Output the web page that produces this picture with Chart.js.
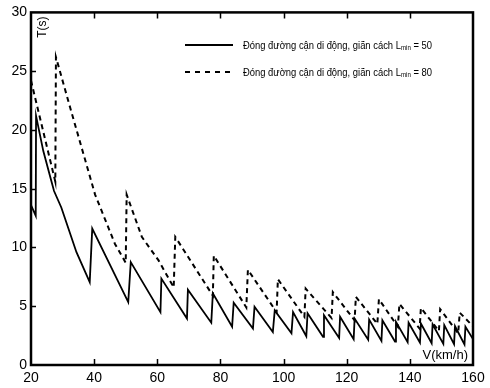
<!DOCTYPE html>
<html>
<head>
<meta charset="utf-8">
<script src="https://cdn.jsdelivr.net/npm/chart.js@4"></script>
<style>
  html, body { margin: 0; padding: 0; background: #fff; }
  #wrap { width: 490px; height: 388px; }
</style>
</head>
<body>
<div id="wrap"><canvas id="chart" width="490" height="388"></canvas></div>
<script>
// Lmin = 50 (solid)
const solidV = [20, 21.5, 21.6, 23.9, 26.4, 27.3, 29.6, 34.4, 38.6, 39.4, 50.8, 51.6, 61.0, 61.3, 69.4, 69.7,
    77.1, 77.6, 83.7, 84.2, 90.3, 90.8, 96.6, 97.2, 102.5, 103.0, 107.2, 107.6, 112.5, 112.8, 117.6, 117.9,
    122.2, 122.5, 126.8, 127.1, 131.0, 131.3, 135.3, 135.6, 139.3, 139.6, 143.2, 143.5, 146.9, 147.2,
    150.6, 150.9, 154.0, 154.3, 157.3, 157.6, 160];
const solidT = [13.6, 12.7, 21.2, 18.2, 15.7, 14.8, 13.4, 9.6, 7.05, 11.6, 5.35, 8.75, 4.5, 7.35, 3.95, 6.4,
    3.6, 6.1, 3.25, 5.3, 3.1, 4.95, 2.8, 4.65, 2.7, 4.5, 2.45, 4.4, 2.4, 4.24, 2.3, 4.1,
    2.2, 3.95, 2.15, 3.87, 2.05, 3.8, 2.0, 3.67, 1.95, 3.6, 1.9, 3.53, 1.85, 3.47,
    1.8, 3.4, 1.78, 3.3, 1.75, 3.25, 2.2];

// Lmin = 80 (dashed)
const dashV = [20, 27.7, 27.9, 32.4, 40.3, 46.6, 50.0, 50.3, 55.1, 60.4, 65.2, 65.7, 77.6, 77.9, 88.2, 88.7,
    97.8, 98.2, 106.6, 107.0, 115.2, 115.6, 122.5, 122.9, 129.7, 130.2, 136.2, 136.7, 143.1, 143.5,
    149.2, 149.6, 155.3, 155.8, 160];
const dashT = [24.2, 15.6, 26.2, 21.9, 14.5, 10.3, 8.7, 14.5, 10.9, 8.9, 6.6, 10.9, 5.9, 9.3, 4.9, 8.1,
    4.5, 7.3, 4.1, 6.5, 4.0, 6.2, 3.8, 5.8, 3.5, 5.6, 3.25, 5.2, 3.1, 4.85,
    2.9, 4.75, 2.7, 4.45, 3.3];

const xTicks = [20, 40, 60, 80, 100, 120, 140, 160];
const yTicks = [0, 5, 10, 15, 20, 25, 30];
const legendLabels = ['Đóng đường cận di động, giãn cách L', 'Đóng đường cận di động, giãn cách L'];
const legendValues = [' = 50', ' = 80'];

const FONT = '"Liberation Sans", Arial, sans-serif';

const pts = (xs, ys) => xs.map((x, i) => ({ x, y: ys[i] }));

// frame, inward ticks, axis titles and legend
const decor = {
    id: 'decor',
    afterDatasetsDraw(chart) {
        const { ctx, chartArea: a, scales } = chart;
        ctx.save();
        ctx.strokeStyle = '#000';
        ctx.fillStyle = '#000';

        ctx.lineWidth = 2.5;
        ctx.strokeRect(a.left, a.top, a.right - a.left, a.bottom - a.top);

        ctx.lineWidth = 1.5;
        xTicks.slice(1, -1).forEach(v => {
            const px = Math.round(scales.x.getPixelForValue(v)) + 0.5;
            ctx.beginPath();
            ctx.moveTo(px, a.top); ctx.lineTo(px, a.top + 6);
            ctx.moveTo(px, a.bottom); ctx.lineTo(px, a.bottom - 6);
            ctx.stroke();
        });
        yTicks.slice(1, -1).forEach(v => {
            const py = Math.round(scales.y.getPixelForValue(v)) + 0.5;
            ctx.beginPath();
            ctx.moveTo(a.left, py); ctx.lineTo(a.left + 5, py);
            ctx.stroke();
        });

        // axis titles
        ctx.font = '12px ' + FONT;
        ctx.save();
        ctx.translate(a.left + 12, a.top + 4);
        ctx.rotate(-Math.PI / 2);
        ctx.textAlign = 'right';
        ctx.textBaseline = 'middle';
        ctx.fillText('T(s)', 0, 0);
        ctx.restore();

        ctx.font = '13px ' + FONT;
        ctx.textAlign = 'right';
        ctx.textBaseline = 'alphabetic';
        ctx.fillText('V(km/h)', a.right - 5, a.bottom - 6);

        // legend
        const rows = [{ y: 45, dash: [] }, { y: 72, dash: [5, 5] }];
        rows.forEach((r, i) => {
            ctx.lineWidth = 2;
            ctx.setLineDash(r.dash);
            ctx.beginPath();
            ctx.moveTo(185, r.y); ctx.lineTo(233, r.y);
            ctx.stroke();
            ctx.setLineDash([]);

            const big = '10px ' + FONT, small = '6.5px ' + FONT;
            ctx.font = big;
            const w1 = ctx.measureText(legendLabels[i]).width;
            const w3 = ctx.measureText(legendValues[i]).width;
            ctx.font = small;
            const w2 = ctx.measureText('min').width;
            const sx = 189 / (w1 + w2 + w3);
            ctx.save();
            ctx.translate(243, r.y + 3.5);
            ctx.scale(sx, 1);
            ctx.textAlign = 'left';
            ctx.font = big;
            ctx.fillText(legendLabels[i], 0, 0);
            ctx.font = small;
            ctx.fillText('min', w1, 1);
            ctx.font = big;
            ctx.fillText(legendValues[i], w1 + w2, 0);
            ctx.restore();
        });
        ctx.restore();
    }
};

new Chart(document.getElementById('chart'), {
    type: 'line',
    data: {
        datasets: [
            {
                label: 'Lmin = 50',
                data: pts(solidV, solidT),
                borderColor: '#000',
                borderWidth: 1.8,
                pointRadius: 0,
                tension: 0
            },
            {
                label: 'Lmin = 80',
                data: pts(dashV, dashT),
                borderColor: '#000',
                borderWidth: 2,
                borderDash: [5, 4],
                pointRadius: 0,
                tension: 0
            }
        ]
    },
    options: {
        responsive: false,
        animation: false,
        layout: { padding: { top: 11, right: 17, left: 0, bottom: 0 } },
        plugins: { legend: { display: false }, tooltip: { enabled: false } },
        scales: {
            x: {
                type: 'linear',
                min: 20,
                max: 160,
                afterFit: s => { s.height = 23; },
                afterBuildTicks: s => { s.ticks = xTicks.map(v => ({ value: v })); },
                grid: { display: false, drawTicks: false },
                border: { display: false },
                ticks: { color: '#000', padding: 5, maxRotation: 0, font: { size: 14, family: FONT } }
            },
            y: {
                min: 0,
                max: 30,
                afterFit: s => { s.width = 31; },
                afterBuildTicks: s => { s.ticks = yTicks.map(v => ({ value: v })); },
                grid: { display: false, drawTicks: false },
                border: { display: false },
                ticks: { color: '#000', padding: 4, font: { size: 14, family: FONT } }
            }
        }
    },
    plugins: [decor]
});
</script>
</body>
</html>
